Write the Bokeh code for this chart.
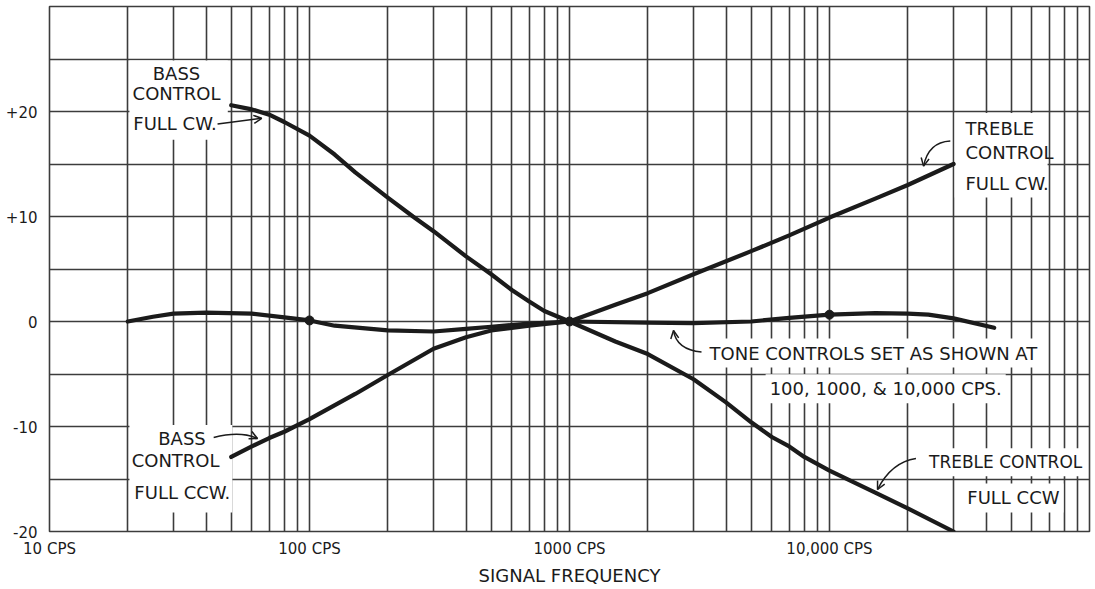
from bokeh.plotting import figure
from bokeh.models import FixedTicker, Label, BoxAnnotation, Arrow, OpenHead
from bokeh.embed import file_html
from bokeh.resources import INLINE

# ---------------- data ----------------
flat_freq = [20, 25, 30, 40, 60, 80, 100, 125, 200, 300, 400, 500, 700, 1000,
             2000, 3000, 5000, 7000, 10000, 15000, 20000, 24000, 30000, 43000]
flat_db = [0.0, 0.45, 0.75, 0.85, 0.75, 0.4, 0.1, -0.4, -0.85, -0.95, -0.7, -0.5, -0.2, 0.0,
           -0.1, -0.15, 0.0, 0.35, 0.65, 0.8, 0.75, 0.65, 0.3, -0.6]

bass_cw_freq = [50, 60, 70, 80, 100, 125, 150, 200, 250, 300, 400, 500, 600, 700, 800, 1000]
bass_cw_db = [20.6, 20.2, 19.7, 19.0, 17.7, 15.9, 14.2, 11.8, 10.0, 8.6, 6.2, 4.5, 3.0, 1.9, 1.0, 0.0]

bass_ccw_freq = [50, 60, 70, 80, 100, 150, 200, 300, 400, 500, 700, 1000]
bass_ccw_db = [-12.9, -11.9, -11.1, -10.5, -9.3, -6.9, -5.1, -2.6, -1.5, -0.85, -0.4, 0.0]

treble_cw_freq = [1000, 1500, 2000, 3000, 5000, 7000, 10000, 15000, 20000, 30000]
treble_cw_db = [0.0, 1.6, 2.7, 4.5, 6.7, 8.2, 9.9, 11.7, 13.0, 15.0]

treble_ccw_freq = [1000, 1500, 2000, 3000, 4000, 5000, 6000, 7000, 8000, 10000, 15000, 20000, 30000]
treble_ccw_db = [0.0, -1.9, -3.1, -5.5, -7.7, -9.6, -11.0, -11.9, -12.9, -14.2, -16.3, -17.8, -20.0]

marker_freq = [100, 1000, 10000]
marker_db = [0.1, 0.0, 0.65]

x_ticks = [10, 100, 1000, 10000]
x_tick_labels = ["10 CPS", "100 CPS", "1000 CPS", "10,000 CPS"]
y_ticks = [-20, -10, 0, 10, 20]
y_tick_labels = ["-20", "-10", "0", "+10", "+20"]
x_grid_ticks = [m * 10 ** d for d in range(1, 5) for m in range(1, 10)] + [100000]
y_grid_ticks = list(range(-20, 31, 5))

# ---------------- styling ----------------
INK = "#1b1b1b"
GRID = "#3c3c3c"
FONT = "DejaVu Sans"

p = figure(width=1092, height=589, x_axis_type="log",
           x_range=(10, 100000), y_range=(-20, 30),
           output_backend="svg", toolbar_location=None,
           min_border_left=49, min_border_right=3, min_border_top=6, min_border_bottom=58)
p.background_fill_color = "white"
p.border_fill_color = "white"
p.outline_line_color = GRID
p.outline_line_width = 1.6

# grids
p.xgrid.ticker = FixedTicker(ticks=x_grid_ticks)
p.ygrid.ticker = FixedTicker(ticks=y_grid_ticks)
for g in (p.xgrid, p.ygrid):
    g.grid_line_color = GRID
    g.grid_line_width = 1.6
    g.minor_grid_line_color = None

# axes
p.xaxis.ticker = FixedTicker(ticks=x_ticks)
p.xaxis.major_label_overrides = dict(zip(x_ticks, x_tick_labels))
p.yaxis.ticker = FixedTicker(ticks=y_ticks)
p.yaxis.major_label_overrides = dict(zip(y_ticks, y_tick_labels))
for ax in (p.xaxis, p.yaxis):
    ax.axis_line_color = None
    ax.major_tick_line_color = None
    ax.minor_tick_line_color = None
    ax.major_label_text_font = FONT
    ax.major_label_text_color = INK
p.xaxis.major_label_text_font_size = "15px"
p.yaxis.major_label_text_font_size = "15px"
p.xaxis.major_label_standoff = 2
p.yaxis.major_label_standoff = 6
p.xaxis.axis_label = "SIGNAL FREQUENCY"
p.xaxis.axis_label_text_font = FONT
p.xaxis.axis_label_text_font_size = "18px"
p.xaxis.axis_label_text_font_style = "normal"
p.xaxis.axis_label_text_color = INK
p.xaxis.axis_label_standoff = 4

# white patches behind the lettering (cover the grid only)
for l, r, t, b in [(20.3, 48.5, 24.85, 17.3), (20.3, 50.5, -9.85, -18.2), (30300, 69000, 19.85, 11.8)]:
    p.add_layout(BoxAnnotation(left=l, right=r, top=t, bottom=b, fill_color="white",
                               fill_alpha=1.0, line_color=None, level="underlay"))

# curves
for fx, fy in [(flat_freq, flat_db), (bass_cw_freq, bass_cw_db), (bass_ccw_freq, bass_ccw_db),
               (treble_cw_freq, treble_cw_db), (treble_ccw_freq, treble_ccw_db)]:
    p.line(fx, fy, line_width=4.2, line_color=INK, line_join="round", line_cap="round")
p.scatter(marker_freq, marker_db, size=9, fill_color=INK, line_color=INK)

# lettering
def lab(x, y, text, align="left", bg=None, size="18px"):
    kw = dict(x=x, y=y, text=text, text_font=FONT, text_font_size=size, text_color=INK,
              text_baseline="middle", text_align=align)
    if bg:
        kw.update(background_fill_color="white", background_fill_alpha=1.0, padding=4)
    p.add_layout(Label(**kw))

lab(30.8, 23.6, "BASS", "center")
lab(30.8, 21.7, "CONTROL", "center")
lab(21.0, 18.9, "FULL CW.")
lab(33350, 18.4, "TREBLE")
lab(33350, 16.1, "CONTROL")
lab(33350, 13.1, "FULL CW.")
lab(3335, -3.0, "TONE CONTROLS SET AS SHOWN AT", bg=True)
lab(5680, -6.4, "100, 1000, & 10,000 CPS.", bg=True)
lab(26.2, -11.1, "BASS")
lab(20.7, -13.2, "CONTROL")
lab(21.2, -16.3, "FULL CCW.")
lab(23300, -13.4, "TREBLE CONTROL", bg=True, size="17px")
lab(32700, -16.8, "FULL CCW", bg=True)

# pointer arrows
p.add_layout(Arrow(x_start=44.3, y_start=18.8, x_end=65.5, y_end=19.35, line_color=INK,
                   line_width=1.5, end=OpenHead(size=8, line_color=INK, line_width=1.5)))
curves = [  # start, control, tip
    (29150, 17.2, 24000, 17.1, 23000, 14.8),
    (3219, -2.9, 2579, -2.67, 2512, -0.86),
    (42.8, -11.05, 54.3, -10.4, 63.1, -11.15),
    (21500, -13.05, 17300, -13.4, 15300, -16.0),
]
for x0, y0, cx, cy, x1, y1 in curves:
    p.quadratic(x0=[x0], y0=[y0], cx=[cx], cy=[cy], x1=[x1], y1=[y1],
                line_color=INK, line_width=1.5)
    p.add_layout(Arrow(x_start=cx, y_start=cy, x_end=x1, y_end=y1, line_alpha=0.0,
                       end=OpenHead(size=8, line_color=INK, line_width=1.5)))

open("out.html", "w").write(file_html(p, INLINE))
